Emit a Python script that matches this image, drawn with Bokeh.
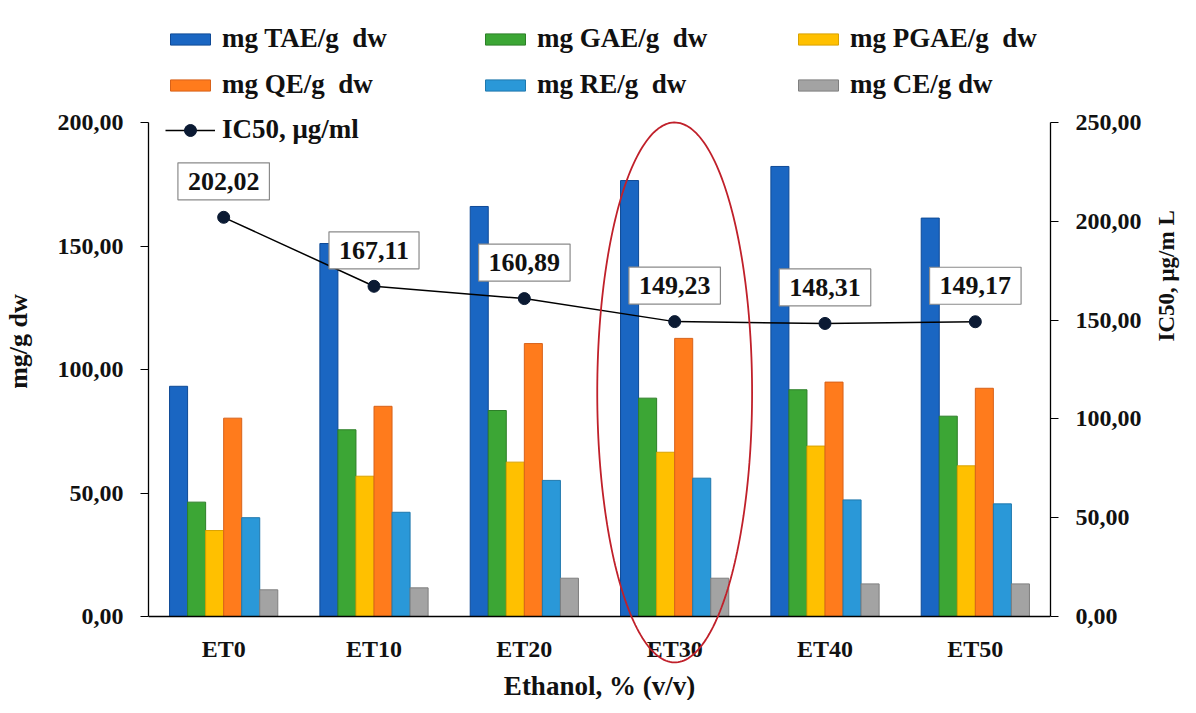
import math
import numpy as np
from bokeh.plotting import figure
from bokeh.models import (ColumnDataSource, FactorRange, Range1d, LinearAxis, FixedTicker,
                          Legend, LegendItem, Label, PolyAnnotation, Span, Title)
from bokeh.transform import dodge
from bokeh.embed import file_html
from bokeh.resources import INLINE

# ---------------- data ----------------
categories = ["ET0", "ET10", "ET20", "ET30", "ET40", "ET50"]
tae = [93.2, 151.0, 166.0, 176.5, 182.2, 161.3]
gae = [46.3, 75.6, 83.4, 88.4, 91.8, 81.1]
pgae = [34.8, 56.8, 62.5, 66.5, 69.0, 61.0]
qe = [80.3, 85.1, 110.5, 112.6, 94.9, 92.4]
re_ = [40.0, 42.2, 55.1, 56.0, 47.2, 45.6]
ce = [10.8, 11.6, 15.5, 15.5, 13.2, 13.2]
ic50 = [202.02, 167.11, 160.89, 149.23, 148.31, 149.17]

series_names = ["mg TAE/g  dw", "mg GAE/g  dw", "mg PGAE/g  dw",
                "mg QE/g  dw", "mg RE/g  dw", "mg CE/g dw"]
ic50_name = "IC50, μg/ml"
left_ticks = [0, 50, 100, 150, 200]
right_ticks = [0, 50, 100, 150, 200, 250]
highlight = "ET30"

# ---------------- style / geometry ----------------
FONT = "Liberation Serif"
TXT = "#111111"
fills = ["#1a66c2", "#3ca635", "#ffc000", "#ff7b1c", "#2a98d8", "#a3a3a3"]
lines = ["#0f4a96", "#2d7f28", "#d9a200", "#d8621a", "#1f78ad", "#7f7f7f"]
offsets = [-0.30, -0.18, -0.06, 0.06, 0.18, 0.30]
BAR_W = 0.12

FRAME_H = 654      # frame spans the legend area down below the baseline
AXIS_PX = 494      # pixel length of the value axes (0..max)
ZERO_PX = 52       # pixels between frame bottom and value 0
L_MAX = left_ticks[-1]
R_MAX = right_ticks[-1]
R_LABEL_ANCHOR = 0.35   # fraction of the axis where the (bottom-up) right title starts

def fmt(v):
    return f"{v:.2f}".replace(".", ",")

def span_range(vmax):
    per = vmax / AXIS_PX
    return Range1d(-ZERO_PX * per, (FRAME_H - ZERO_PX) * per)

src = ColumnDataSource(dict(cat=categories, tae=tae, gae=gae, pgae=pgae, qe=qe,
                            re=re_, ce=ce, ic50=ic50))
cols = ["tae", "gae", "pgae", "qe", "re", "ce"]

p = figure(x_range=FactorRange(*categories), y_range=span_range(L_MAX),
           frame_width=902, frame_height=FRAME_H,
           min_border_left=147, min_border_right=140, min_border_top=14, min_border_bottom=30,
           output_backend="svg", toolbar_location=None)
p.extra_y_ranges = {"ic": span_range(R_MAX)}
p.outline_line_color = None
p.xgrid.visible = False
p.ygrid.visible = False
p.background_fill_color = "white"
p.border_fill_color = "white"
p.xaxis.visible = False

bar_renderers = []
for c, off, fc, lc in zip(cols, offsets, fills, lines):
    r = p.vbar(x=dodge("cat", off, range=p.x_range), top=c, width=BAR_W, source=src,
               fill_color=fc, line_color=lc, line_width=1)
    bar_renderers.append(r)

# baseline (category axis line)
p.add_layout(Span(location=0, dimension="width", line_color="black", line_width=1.5))

# category labels under the baseline
for i, c in enumerate(categories):
    p.add_layout(Label(x=i + 0.5, y=0, y_offset=-32, text=c, text_align="center",
                       text_baseline="middle", text_font=FONT, text_font_style="bold",
                       text_font_size="24px", text_color=TXT))

# highlight ellipse around ET30 (factor-range synthetic coordinate of its centre)
ci = categories.index(highlight) + 0.5
t = np.linspace(0, 2 * np.pi, 240)
ell = PolyAnnotation(xs=list(ci + 0.515 * np.cos(t)), ys=list(90.7 + 109.3 * np.sin(t)),
                     fill_alpha=0, line_color="#c0202a", line_alpha=1.0, line_width=1.8)
p.add_layout(ell)

ln = p.line(x="cat", y="ic50", source=src, y_range_name="ic", line_color="black", line_width=1.5)
sc = p.scatter(x="cat", y="ic50", source=src, y_range_name="ic", size=12,
               fill_color="#0b1a33", line_color="#0b1a33")

for i, v in enumerate(ic50):
    p.add_layout(Label(x=i + 0.5, y=v, y_range_name="ic", y_offset=36, text=fmt(v),
                       text_align="center", text_baseline="middle",
                       text_font=FONT, text_font_style="bold", text_font_size="26px",
                       text_color=TXT, background_fill_color="white",
                       border_line_color="#8a8a8a", border_line_width=1.2, padding=10))

# value axes
ax_l = p.yaxis[0]
ax_l.ticker = FixedTicker(ticks=left_ticks)
ax_l.bounds = (0, L_MAX)
ax_l.major_label_overrides = {t_: fmt(t_) for t_ in left_ticks}
ax_l.axis_label = "mg/g dw"
ax_l.axis_label_standoff = 22

ax_r = LinearAxis(y_range_name="ic", ticker=FixedTicker(ticks=right_ticks), bounds=(0, R_MAX))
ax_r.major_label_overrides = {t_: fmt(t_) for t_ in right_ticks}
p.add_layout(ax_r, "right")

for ax in [ax_l, ax_r]:
    ax.major_tick_out = 8
    ax.major_tick_in = 0
    ax.minor_tick_line_color = None
    ax.major_label_standoff = 17
    ax.axis_line_color = "black"
    ax.axis_line_width = 1.3
    ax.major_tick_line_color = "black"
    ax.major_label_text_font = FONT
    ax.major_label_text_font_style = "bold"
    ax.major_label_text_font_size = "24px"
    ax.major_label_text_color = TXT
    ax.axis_label_text_font = FONT
    ax.axis_label_text_font_style = "bold"
    ax.axis_label_text_font_size = "26px"
    ax.axis_label_text_color = TXT

# right-hand title, reading bottom-to-top, carried by a bare axis
ax_t = LinearAxis(y_range_name="ic", ticker=FixedTicker(ticks=[0]),
                  bounds=(0, 2 * R_LABEL_ANCHOR * R_MAX), axis_label="IC50, μg/m L")
ax_t.axis_line_color = None
ax_t.major_tick_line_color = None
ax_t.minor_tick_line_color = None
ax_t.major_tick_out = 0
ax_t.major_label_standoff = 0
ax_t.major_label_text_color = None
ax_t.major_label_text_font_size = "1px"
ax_t.axis_label_orientation = math.pi / 2
ax_t.axis_label_standoff = 22
ax_t.axis_label_text_font = FONT
ax_t.axis_label_text_font_style = "bold"
ax_t.axis_label_text_font_size = "23px"
ax_t.axis_label_text_color = TXT
p.add_layout(ax_t, "right")

p.add_layout(Title(text="Ethanol, % (v/v)", align="center", text_font=FONT,
                   text_font_style="bold", text_font_size="27px", text_color=TXT,
                   standoff=0, offset=0), "below")

# legends: three columns (IC50 entry on its own so its marker can be larger)
groups = [
    ([LegendItem(label=series_names[0], renderers=[bar_renderers[0]]),
      LegendItem(label=series_names[3], renderers=[bar_renderers[3]])], 17, 568, 14),
    ([LegendItem(label=ic50_name, renderers=[ln, sc])], 17, 523, 30),
    ([LegendItem(label=series_names[1], renderers=[bar_renderers[1]]),
      LegendItem(label=series_names[4], renderers=[bar_renderers[4]])], 332, 568, 14),
    ([LegendItem(label=series_names[2], renderers=[bar_renderers[2]]),
      LegendItem(label=series_names[5], renderers=[bar_renderers[5]])], 645, 568, 14),
]
for items, lx, ly, gh in groups:
    lg = Legend(items=items, location=(lx, ly), orientation="vertical",
                glyph_width=50, glyph_height=gh, label_height=30, spacing=15,
                label_standoff=7, padding=0, margin=0,
                border_line_color=None, background_fill_alpha=0,
                label_text_font=FONT, label_text_font_style="bold",
                label_text_font_size="27px", label_text_color=TXT,
                label_text_baseline="middle")
    p.add_layout(lg, "center")

open("out.html", "w").write(file_html(p, INLINE))
